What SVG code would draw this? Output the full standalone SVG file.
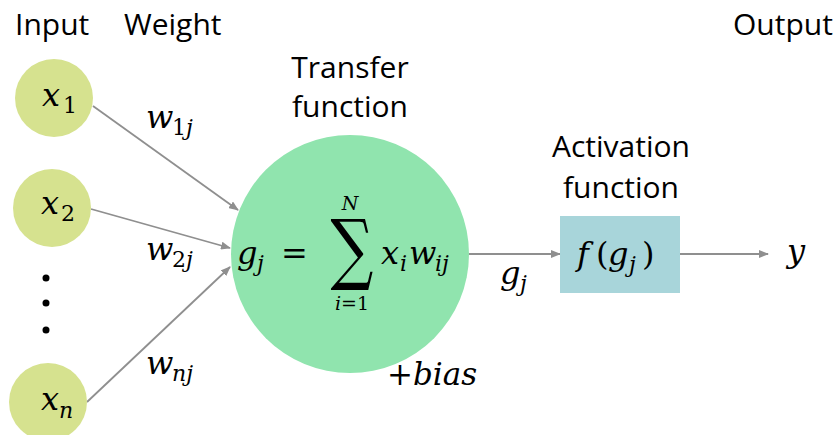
<svg xmlns="http://www.w3.org/2000/svg" width="837" height="435" viewBox="0 0 837 435">
<defs>
<marker id="ah" markerWidth="10" markerHeight="8" refX="9" refY="4" orient="auto" markerUnits="userSpaceOnUse">
<path d="M0,0 L10,4 L0,8 z" fill="#8f8f8f"/>
</marker>
</defs>
<rect width="837" height="435" fill="#fff"/>
<g id="headers">
<text x="15" y="35" font-family="Open Sans" font-size="30">Input</text>
<text x="124" y="35" font-family="Open Sans" font-size="30">Weight</text>
<text x="733" y="35" font-family="Open Sans" font-size="30">Output</text>
</g>
<g id="connectors" stroke="#8f8f8f" stroke-width="1.8" fill="none" marker-end="url(#ah)">
<line x1="93" y1="106" x2="238" y2="210"/>
<line x1="91" y1="209" x2="230" y2="248"/>
<line x1="87" y1="402" x2="230" y2="267"/>
<line x1="469" y1="254" x2="560" y2="254"/>
<line x1="680" y1="254" x2="768" y2="254"/>
</g>
<g id="x1">
<circle fill="#d6e28f" cx="54" cy="98" r="39"/>
<text x="42" y="106" font-family="DejaVu Serif" font-style="italic" font-size="32">x</text><text x="63" y="113" font-family="DejaVu Serif" font-size="22">1</text>
</g>
<g id="x2">
<circle fill="#d6e28f" cx="52" cy="208" r="39"/>
<text x="41" y="214" font-family="DejaVu Serif" font-style="italic" font-size="32">x</text><text x="61" y="221" font-family="DejaVu Serif" font-size="22">2</text>
</g>
<g id="dots">
<circle cx="46" cy="278" r="3.5"/>
<circle cx="46" cy="303" r="3.5"/>
<circle cx="46" cy="330" r="3.5"/>
</g>
<g id="xn">
<circle fill="#d6e28f" cx="48" cy="402" r="39"/>
<text x="41" y="410" font-family="DejaVu Serif" font-style="italic" font-size="32">x</text><text x="59" y="418" font-family="DejaVu Serif" font-style="italic" font-size="22">n</text>
</g>
<g id="weights">
<text x="146" y="128" font-family="DejaVu Serif" font-style="italic" font-size="32">w</text><text x="172" y="135" font-family="DejaVu Serif" font-size="22">1<tspan font-style="italic">j</tspan></text>
<text x="146" y="260" font-family="DejaVu Serif" font-style="italic" font-size="32">w</text><text x="172" y="267" font-family="DejaVu Serif" font-size="22">2<tspan font-style="italic">j</tspan></text>
<text x="146" y="374" font-family="DejaVu Serif" font-style="italic" font-size="32">w</text><text x="172" y="381" font-family="DejaVu Serif" font-style="italic" font-size="22">nj</text>
</g>
<g id="transfer">
<circle cx="350" cy="254" r="119" fill="#90e4ae"/>
<text x="350" y="78" text-anchor="middle" font-family="Open Sans" font-size="30">Transfer</text>
<text x="350" y="117" text-anchor="middle" font-family="Open Sans" font-size="30">function</text>
<text x="237" y="264" font-family="DejaVu Serif" font-style="italic" font-size="32">g</text><text x="257" y="271" font-family="DejaVu Serif" font-style="italic" font-size="22">j</text>
<text x="281" y="264" font-family="DejaVu Serif" font-size="32">=</text>
<text x="0" y="0" text-anchor="middle" font-family="DejaVu Serif" font-size="60" transform="translate(352,275) scale(1,1.3)">∑</text>
<text x="350" y="210" text-anchor="middle" font-family="DejaVu Serif" font-style="italic" font-size="19">N</text>
<text x="352" y="310" text-anchor="middle" font-family="DejaVu Serif" font-size="19"><tspan font-style="italic">i</tspan>=1</text>
<text x="381" y="264" font-family="DejaVu Serif" font-style="italic" font-size="32">x</text><text x="400" y="271" font-family="DejaVu Serif" font-style="italic" font-size="22">i</text>
<text x="409" y="264" font-family="DejaVu Serif" font-style="italic" font-size="32">w</text><text x="435" y="271" font-family="DejaVu Serif" font-style="italic" font-size="22">ij</text>
</g>
<g id="gj-label">
<text x="500" y="284" font-family="DejaVu Serif" font-style="italic" font-size="32">g</text><text x="520" y="291" font-family="DejaVu Serif" font-style="italic" font-size="22">j</text>
</g>
<g id="activation">
<text x="621" y="157" text-anchor="middle" font-family="Open Sans" font-size="30">Activation</text>
<text x="621" y="198" text-anchor="middle" font-family="Open Sans" font-size="30">function</text>
<rect x="560" y="216" width="120" height="77" fill="#a8d5da"/>
<text x="577" y="265" font-family="DejaVu Serif" font-style="italic" font-size="32">f</text>
<text x="596" y="265" font-family="DejaVu Serif" font-size="32">(</text>
<text x="608" y="265" font-family="DejaVu Serif" font-style="italic" font-size="32">g</text>
<text x="629" y="272" font-family="DejaVu Serif" font-style="italic" font-size="22">j</text>
<text x="642" y="265" font-family="DejaVu Serif" font-size="32">)</text>
</g>
<g id="output">
<text x="787" y="262" font-family="DejaVu Serif" font-style="italic" font-size="32">y</text>
</g>
<g id="bias">
<text x="387" y="385" font-family="DejaVu Serif" font-size="31">+<tspan font-style="italic">bias</tspan></text>
</g>
</svg>
